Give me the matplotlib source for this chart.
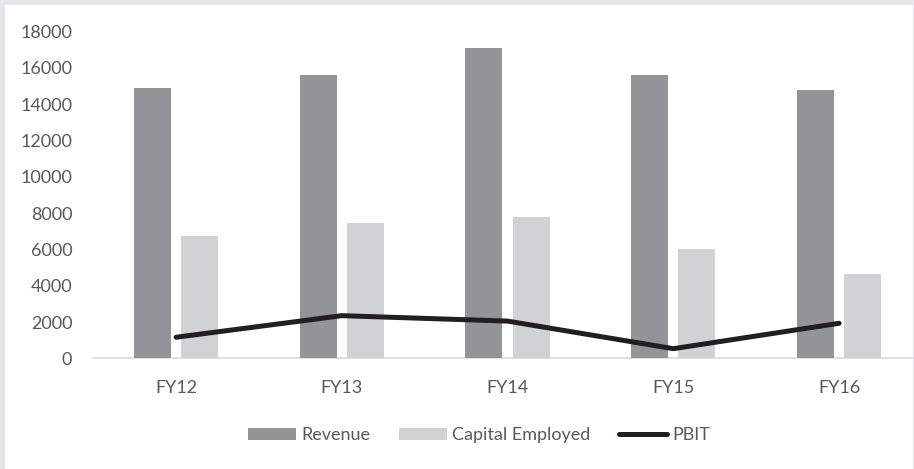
import matplotlib
matplotlib.use("Agg")
import matplotlib.pyplot as plt
import numpy as np
from matplotlib.patches import Rectangle

categories = ["FY12", "FY13", "FY14", "FY15", "FY16"]
revenue = [14900, 15600, 17100, 15600, 14800]
capital_employed = [6750, 7450, 7770, 6040, 4650]
pbit = [1160, 2350, 2050, 530, 1930]
yticks = [0, 2000, 4000, 6000, 8000, 10000, 12000, 14000, 16000, 18000]

plt.rcParams['font.family'] = ['Lato', 'DejaVu Sans']

W, H = 914, 469
fig = plt.figure(figsize=(W / 100, H / 100), dpi=100)
fig.patch.set_facecolor('#e6e7e9')
fig.patches.append(Rectangle((5 / W, 0), (913 - 5) / W, (H - 5) / H,
                             transform=fig.transFigure, facecolor='white',
                             edgecolor='none', zorder=-10))

left = 93.2 / W
right = 922 / W
bottom = 1 - 358.3 / H
top = 1 - 31.7 / H
ax = fig.add_axes([left, bottom, right - left, top - bottom])
ax.set_facecolor('none')

x = np.arange(len(categories))
bw = 0.223
off = 0.1425
b1 = ax.bar(x - off, revenue, bw, color='#939498', label='Revenue', zorder=2)
b2 = ax.bar(x + off, capital_employed, bw, color='#d1d2d4', label='Capital Employed', zorder=2)
l1, = ax.plot(x, pbit, color='#231f20', lw=3.6, solid_capstyle='round',
              solid_joinstyle='round', label='PBIT', zorder=3)

ax.set_xlim(-0.5, len(categories) - 0.5)
ax.set_ylim(0, 18000)
ax.set_yticks(yticks)
ax.set_yticklabels([str(v) for v in yticks])
ax.set_xticks(x)
ax.set_xticklabels(categories)

for s in ['top', 'right', 'left']:
    ax.spines[s].set_visible(False)
ax.spines['bottom'].set_color('#d9d9d9')
ax.spines['bottom'].set_linewidth(1.2)
ax.spines['bottom'].set_zorder(1)
ax.tick_params(axis='both', length=0, labelsize=13, colors='#595959')
ax.tick_params(axis='y', pad=15)
ax.tick_params(axis='x', pad=15.5)

fig.legend(handles=[b1, b2, l1], labels=['Revenue', 'Capital Employed', 'PBIT'],
           loc='center', bbox_to_anchor=(479 / W, 1 - 435 / H), ncol=3,
           frameon=False, fontsize=13, labelcolor='#595959',
           handlelength=2.65, handleheight=0.65, handletextpad=0.3,
           columnspacing=1.6, borderaxespad=0)

fig.savefig('out.png', dpi=100, facecolor=fig.get_facecolor())
